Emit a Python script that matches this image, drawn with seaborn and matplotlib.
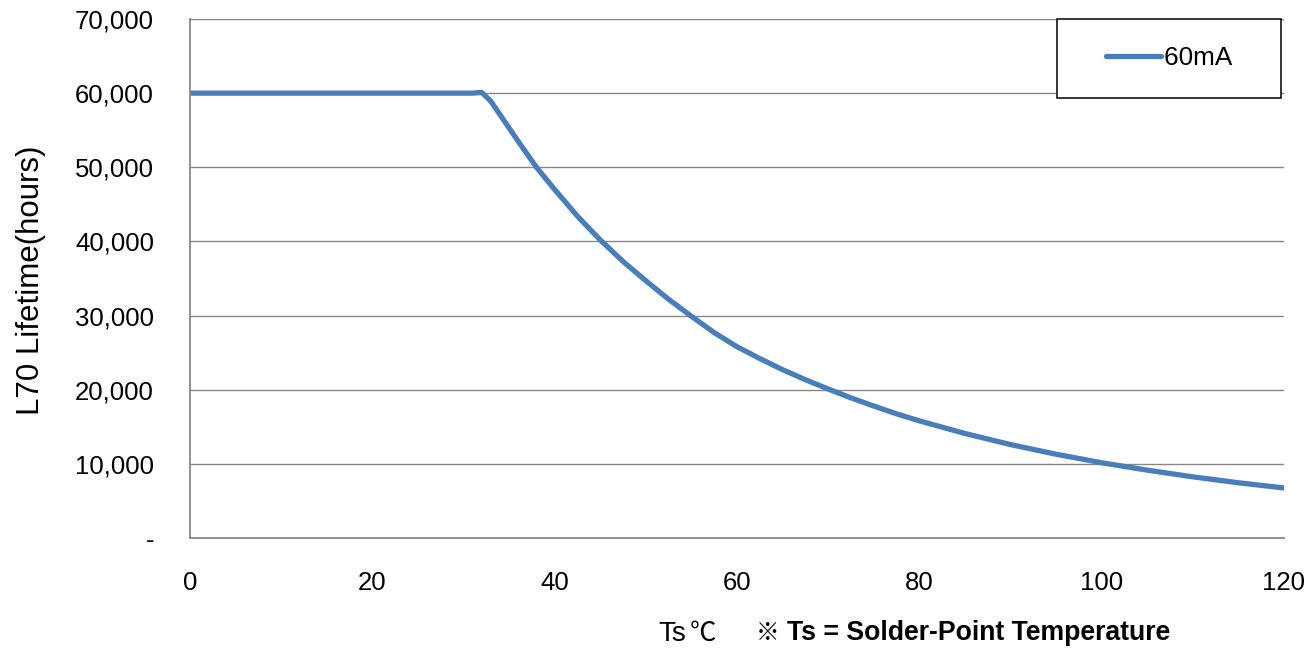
import seaborn as sns
import matplotlib.pyplot as plt
from matplotlib.ticker import FuncFormatter, MultipleLocator
from matplotlib.legend_handler import HandlerLine2D

# 读图得到的数据 (Ts ℃ -> L70 寿命 小时)
ts = [0, 10, 20, 31, 32, 33, 34, 35, 36, 38, 40, 42.5, 45, 47.5, 50, 52.5, 55,
      57.5, 60, 62.5, 65, 67.5, 70, 72.5, 75, 77.5, 80, 85, 90, 95, 100, 105,
      110, 115, 120]
life = [60000, 60000, 60000, 60000, 60100, 58900, 57100, 55300, 53500, 50000,
        47000, 43400, 40200, 37300, 34700, 32200, 29900, 27700, 25800, 24200,
        22700, 21350, 20100, 18900, 17800, 16750, 15800, 14100, 12600, 11300,
        10150, 9150, 8250, 7450, 6750]
series_name = '60mA'
x_ticks = [0, 20, 40, 60, 80, 100, 120]
y_max = 70000

sns.set_style('white')
plt.rcParams['font.family'] = ['Liberation Sans', 'Noto Sans CJK SC', 'DejaVu Sans']
plt.rcParams['text.color'] = 'black'

fig = plt.figure(figsize=(13.12, 6.5), dpi=100)
ax = fig.add_axes([190 / 1312, 1 - 538 / 650, 1094 / 1312, 519 / 650])

sns.lineplot(x=ts, y=life, ax=ax, color='#4a7ebb', linewidth=3.8,
             solid_capstyle='round', solid_joinstyle='round', label=series_name)

ax.set_xlim(0, 120)
ax.set_ylim(0, y_max)
ax.set_xticks(x_ticks)
ax.yaxis.set_major_locator(MultipleLocator(10000))
ax.yaxis.set_major_formatter(FuncFormatter(lambda v, p: '-' if v == 0 else f'{int(v):,}'))

ax.grid(axis='y', color='#888888', linewidth=1.0)
ax.grid(axis='x', visible=False)
for side in ['top', 'right']:
    ax.spines[side].set_visible(False)
for side in ['left', 'bottom']:
    ax.spines[side].set_color('#888888')
    ax.spines[side].set_linewidth(1.3)
ax.tick_params(axis='x', length=8, width=1.2, color='#888888', pad=16,
               labelsize=18.5, labelcolor='black')
ax.tick_params(axis='y', length=7, width=1.2, color='#888888', pad=19,
               labelsize=18.5, labelcolor='black')
ax.set_xlabel('')
ax.set_ylabel('')

leg = ax.legend(loc='upper right', bbox_to_anchor=(1.0 - 3 / 1094, 1.0), borderaxespad=0,
                fontsize=18.8, frameon=True, fancybox=False, borderpad=1.05,
                handlelength=2.95, handletextpad=0.1,
                handler_map={ax.get_lines()[0]: HandlerLine2D(xpad=0.85)})
leg.get_frame().set_edgecolor('black')
leg.get_frame().set_linewidth(1.1)
leg.get_frame().set_alpha(1)
leg.texts[0].set_text(series_name + '\u00a0\u00a0\u00a0')
leg.texts[0].set_color('black')

fig.text(31 / 1312, 1 - 280 / 650, 'L70 Lifetime(hours)', rotation=90,
         ha='center', va='center', fontsize=22.5)
fig.text(658 / 1312, 1 - 641 / 650, 'Ts', ha='left', va='baseline', fontsize=20)
fig.text(690 / 1312, 1 - 641 / 650, '\u2103', ha='left', va='baseline', fontsize=19,
         family=['Noto Sans CJK SC', 'DejaVu Sans'])
fig.text(756 / 1312, 1 - 640 / 650, '\u203b', ha='left', va='baseline', fontsize=17,
         fontweight='heavy', family=['Noto Sans CJK SC', 'DejaVu Sans'])
fig.text(787 / 1312, 1 - 640 / 650, 'Ts = Solder-Point Temperature',
         ha='left', va='baseline', fontsize=19.2, fontweight='bold')

fig.savefig('out.png', dpi=100)
